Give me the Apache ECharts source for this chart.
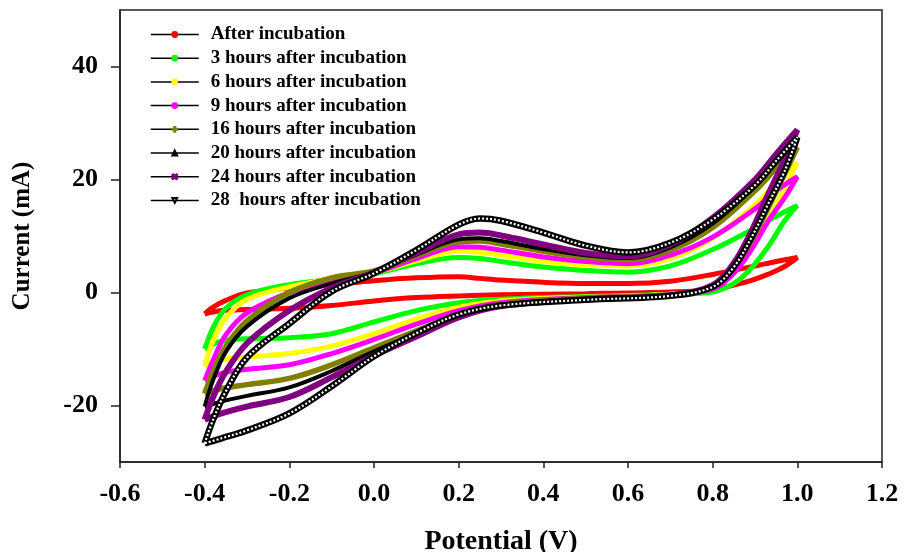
<!DOCTYPE html>
<html><head><meta charset="utf-8">
<script src="https://cdn.jsdelivr.net/npm/echarts@6/dist/echarts.min.js"></script>
<style>html,body{margin:0;padding:0;background:#fff}#c{width:904px;height:552px}</style>
</head><body><div id="c"></div>
<script>
const SERIES_NAMES = ['After incubation','3 hours after incubation','6 hours after incubation','9 hours after incubation','16 hours after incubation','20 hours after incubation','24 hours after incubation','28  hours after incubation'];
const X_TICKS = [-0.6,-0.4,-0.2,0.0,0.2,0.4,0.6,0.8,1.0,1.2];
const Y_TICKS = [-20,0,20,40];
// forward (anodic) sweep potentials and reverse sweep potentials
const V_FWD = [-0.4,-0.38,-0.35,-0.3,-0.2,-0.1,0,0.1,0.2,0.25,0.3,0.4,0.5,0.6,0.7,0.8,0.9,0.95,1.0];
const V_REV = [0.97,0.93,0.89,0.85,0.8,0.7,0.5,0.3,0.2,0.1,0,-0.1,-0.2,-0.3,-0.36,-0.4];

const I_0H_FWD  = [-3.8,-2.6,-1.4,-0.1,0.8,1.4,2.1,2.6,2.8,2.5,2.2,1.8,1.6,1.6,2.0,3.2,4.7,5.5,6.2];
const I_0H_REV  = [4.6,3.2,2.1,1.3,0.5,0.1,-0.2,-0.4,-0.6,-0.9,-1.5,-2.3,-2.8,-3.0,-3.2,-3.8];
const I_3H_FWD  = [-10,-6.2,-2.8,-0.4,1.4,2.3,3.3,5.1,6.2,6.0,5.5,4.5,3.9,3.6,4.7,7.6,11.4,13.5,15.4];
const I_3H_REV  = [12.7,8.0,4.2,1.6,0.1,-0.3,-0.7,-1.2,-1.8,-3.2,-5.2,-7.3,-8.0,-8.2,-8.6,-10];
const I_6H_FWD  = [-13,-8.5,-4.5,-1.2,1.0,2.4,3.5,5.6,7.3,7.1,6.6,5.5,4.9,4.7,6.0,9.6,15.5,19.3,23];
const I_6H_REV  = [18.5,12.8,7.8,3.8,0.8,-0.3,-0.8,-1.5,-2.6,-4.7,-7.3,-9.5,-10.8,-11.4,-11.9,-13];
const I_9H_FWD  = [-15.6,-12,-7.5,-3.6,0,2.0,3.5,6.0,8.1,8.0,7.5,6.3,5.5,5.1,6.6,9.8,14.8,18,20.5];
const I_9H_REV  = [16.8,12.5,7.4,3.4,0.6,-0.4,-0.9,-1.8,-3.2,-5.6,-8.3,-10.8,-12.8,-13.6,-14.3,-15.6];
const I_16H_FWD = [-17.9,-14,-9.5,-5,0,2.6,3.8,6.5,9.0,9.1,8.6,7.3,6.3,5.8,7.5,11.5,18,22,25.7];
const I_16H_REV = [21,14.8,9.0,4.5,1.0,-0.4,-1.0,-2.1,-3.9,-6.8,-9.8,-12.8,-15.2,-16.3,-17.0,-17.9];
const I_20H_FWD = [-20.2,-15.5,-10.5,-6,-1.0,1.6,3.6,6.7,9.4,9.6,9.1,7.7,6.6,6.1,8.0,12.2,18.8,23,27];
const I_20H_REV = [22,15.8,9.6,4.8,1.1,-0.5,-1.1,-2.2,-4.1,-7.2,-10.4,-13.9,-16.8,-18.3,-19.3,-20.2];
const I_24H_FWD = [-22.5,-18.5,-14,-9,-3.2,0.8,3.6,7.0,10.3,10.6,10.1,8.5,7.0,6.4,8.5,13.2,20,24.5,28.8];
const I_24H_REV = [23.5,17.2,10.6,5.2,1.3,-0.5,-1.2,-2.4,-4.4,-7.8,-11.2,-15.0,-18.5,-20.2,-21.4,-22.5];
const I_28H_FWD = [-26.7,-22.5,-17.5,-11.5,-5.5,0.2,3.4,7.5,12.0,13.1,12.7,10.6,8.3,7.1,8.8,12.9,19,23.3,27.5];
const I_28H_REV = [21.5,15.5,9.5,4.5,1.0,-0.6,-1.3,-2.3,-3.9,-7.2,-11.3,-16.6,-21.4,-24.4,-25.8,-26.7];

const FWD = [I_0H_FWD,I_3H_FWD,I_6H_FWD,I_9H_FWD,I_16H_FWD,I_20H_FWD,I_24H_FWD,I_28H_FWD];
const REV = [I_0H_REV,I_3H_REV,I_6H_REV,I_9H_REV,I_16H_REV,I_20H_REV,I_24H_REV,I_28H_REV];

function loop(k){
  const pts = [];
  V_FWD.forEach((v,i)=>pts.push([v,FWD[k][i]]));
  V_REV.forEach((v,i)=>pts.push([v,REV[k][i]]));
  return pts;
}

const FONT = "'Times New Roman','Liberation Serif',serif";
const STYLE = [
  {line:'#ff0000', fill:'#ff0000', border:'#ff0000', symbol:'circle', size:6, w:5},
  {line:'#00ff00', fill:'#00ff00', border:'#00ff00', symbol:'circle', size:6, w:5},
  {line:'#ffff00', fill:'#ffff00', border:'#ffff00', symbol:'circle', size:6, w:5},
  {line:'#ff00ff', fill:'#ff00ff', border:'#ff00ff', symbol:'circle', size:6, w:5},
  {line:'#808000', fill:'#808000', border:'#808000', symbol:'path://M4,0 L6,0 L6,4 L10,4 L10,6 L6,6 L6,10 L4,10 L4,6 L0,6 L0,4 L4,4 Z', size:8, w:5.5},
  {line:'#000000', fill:'#000000', border:'#000000', symbol:'triangle', size:6, w:4},
  {line:'#800080', fill:'#800080', border:'#800080', symbol:'path://M0,1.5 L1.5,0 L5,3.5 L8.5,0 L10,1.5 L6.5,5 L10,8.5 L8.5,10 L5,6.5 L1.5,10 L0,8.5 L3.5,5 Z', size:7, w:6},
  {line:'#000000', fill:'#ffffff', border:'#000000', symbol:'path://M0,0 L10,0 L5,9 Z', size:8, w:6.5}
];

const series = SERIES_NAMES.map((name,k)=>({
  name, type:'line', data: loop(k), smooth:0.35, showSymbol:false,
  symbol: STYLE[k].symbol, symbolSize: STYLE[k].size,
  itemStyle:{color:STYLE[k].fill, borderColor:STYLE[k].border, borderWidth:1},
  lineStyle:{color:STYLE[k].line, width:STYLE[k].w},
  emphasis:{disabled:true}, silent:true, z:2+k
}));
// hollow-triangle texture of the 28 h curve
series.push({
  name:'_28h_inner', type:'line', data: loop(7), smooth:0.35, showSymbol:false, symbol:'none',
  lineStyle:{color:'#ffffff', width:2.2, type:[2,2]}, emphasis:{disabled:true}, silent:true, z:11
});

const chart = echarts.init(document.getElementById('c'), null, {renderer:'canvas'});
chart.setOption({
  animation:false,
  backgroundColor:'#fff',
  grid:{left:120, right:22, top:10, bottom:90, containLabel:false, outerBoundsMode:'none',
        show:true, borderColor:'#222', borderWidth:1.5, backgroundColor:'transparent'},
  legend:{
    data: SERIES_NAMES, orient:'vertical', left:150, top:25, padding:0,
    itemWidth:48, itemHeight:6, itemGap:4.7,
    lineStyle:{color:'#000', width:1.5},
    textStyle:{fontFamily:FONT, fontWeight:'bold', fontSize:19, color:'#000', lineHeight:18, padding:[0,0,0,7]},
    selectedMode:false
  },
  xAxis:{
    type:'value', min:-0.6, max:1.2, interval:0.2,
    name:'Potential (V)', nameLocation:'middle', nameGap:66,
    nameTextStyle:{fontFamily:FONT, fontWeight:'bold', fontSize:28, color:'#000'},
    axisLine:{onZero:false, lineStyle:{color:'#222', width:1.5}},
    axisTick:{inside:false, length:6, lineStyle:{color:'#222', width:1.5}, customValues:X_TICKS},
    axisLabel:{fontFamily:FONT, fontWeight:'bold', fontSize:26, color:'#000', margin:19, customValues:X_TICKS,
      formatter:v=>Number(v).toFixed(1)},
    splitLine:{show:false}
  },
  yAxis:{
    type:'value', min:-30, max:50,
    name:'Current (mA)', nameLocation:'middle', nameGap:85,
    nameTextStyle:{fontFamily:FONT, fontWeight:'bold', fontSize:25, color:'#000'},
    axisLine:{onZero:false, lineStyle:{color:'#222', width:1.5}},
    axisTick:{inside:false, length:9, lineStyle:{color:'#222', width:1.5}, customValues:Y_TICKS},
    axisLabel:{fontFamily:FONT, fontWeight:'bold', fontSize:26, color:'#000', margin:22, customValues:Y_TICKS,
      formatter:v=>String(v)},
    splitLine:{show:false}
  },
  series
});
</script></body></html>
